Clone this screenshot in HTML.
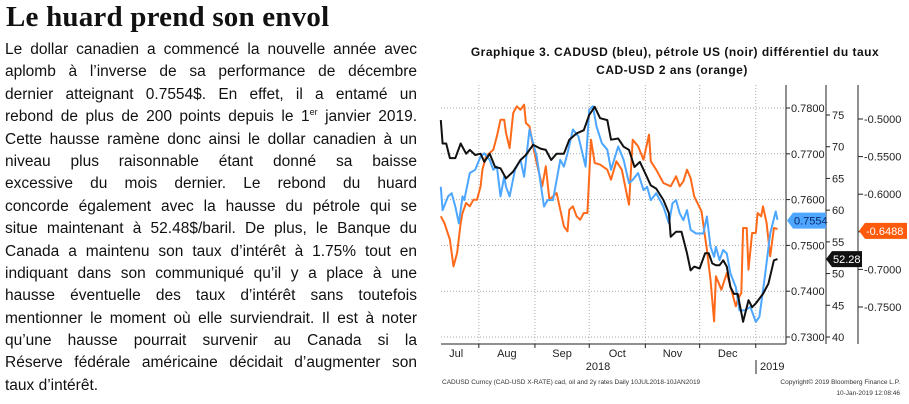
<!DOCTYPE html>
<html><head><meta charset="utf-8">
<style>
body{margin:0;width:909px;height:404px;background:#fff;overflow:hidden;position:relative;font-family:"Liberation Sans",sans-serif}
#title{position:absolute;left:6px;top:1px;font:bold 29px "Liberation Serif",serif;color:#111;letter-spacing:0.2px}
#body{position:absolute;left:5px;top:39px;width:412px;font-size:15.5px;color:#111;line-height:22.4px}
#body div{text-align:justify;text-align-last:justify;white-space:nowrap;height:22.4px}
#body div.last{text-align-last:left}
sup{font-size:9px;line-height:0;vertical-align:6px}
</style></head><body>
<div id="title">Le huard prend son envol</div>
<div id="body">
<div>Le dollar canadien a commencé la nouvelle année avec</div>
<div>aplomb à l’inverse de sa performance de décembre</div>
<div>dernier atteignant 0.7554$. En effet, il a entamé un</div>
<div>rebond de plus de 200 points depuis le 1<sup>er</sup> janvier 2019.</div>
<div>Cette hausse ramène donc ainsi le dollar canadien à un</div>
<div>niveau plus raisonnable étant donné sa baisse</div>
<div>excessive du mois dernier. Le rebond du huard</div>
<div>concorde également avec la hausse du pétrole qui se</div>
<div>situe maintenant à 52.48$/baril. De plus, le Banque du</div>
<div>Canada a maintenu son taux d’intérêt à 1.75% tout en</div>
<div>indiquant dans son communiqué qu’il y a place à une</div>
<div>hausse éventuelle des taux d’intérêt sans toutefois</div>
<div>mentionner le moment où elle surviendrait. Il est à noter</div>
<div>qu’une hausse pourrait survenir au Canada si la</div>
<div>Réserve fédérale américaine décidait d’augmenter son</div>
<div class="last">taux d’intérêt.</div>
</div>
<svg id="chart" width="909" height="404" style="position:absolute;left:0;top:0">
<text x="675" y="56" text-anchor="middle" font-size="12" font-weight="bold" letter-spacing="0.5" font-family="Liberation Sans" fill="#111">Graphique 3. CADUSD (bleu), pétrole US (noir) différentiel du taux</text>
<text x="672" y="74" text-anchor="middle" font-size="12" font-weight="bold" letter-spacing="0.5" font-family="Liberation Sans" fill="#111">CAD-USD 2 ans (orange)</text>
<g id="grid"></g><g id="axes"></g><g id="series"></g><g id="badges"></g>
<text x="442" y="384" font-size="6.5" fill="#333">CADUSD Curncy (CAD-USD X-RATE) cad, oil and 2y rates  Daily 10JUL2018-10JAN2019</text>
<text x="900" y="384" text-anchor="end" font-size="6.5" fill="#333">Copyright© 2019 Bloomberg Finance L.P.</text>
<text x="900" y="395" text-anchor="end" font-size="6.5" fill="#333">10-Jan-2019 12:08:46</text>
</svg>
<script>
const months=["Jul","Aug","Sep","Oct","Nov","Dec"];
const monthStartDays=[-9,22,53,83,114,144,175];
const cadTicks=[0.78,0.77,0.76,0.75,0.74,0.73];
const oilTicks=[75,70,65,60,55,50,45,40];
const rateTicks=[-0.5,-0.55,-0.6,-0.65,-0.7,-0.75];
const cadDays=[1,2,5,7,9,11,13,14,17,20,23,25,28,30,32,34,36,37,39,42,45,47,50,54,58,60,63,67,69,71,74,77,81,83,85,87,90,93,95,99,102,105,107,110,113,115,117,120,124,127,129,131,133,135,137,139,142,146,148,150,152,153,155,157,159,161,164,166,169,172,175,177,180,183,186,187];
const cadVals=[0.7628,0.7577,0.7607,0.7614,0.7585,0.7548,0.7607,0.7599,0.7658,0.7665,0.7694,0.7701,0.7687,0.7665,0.7672,0.7607,0.7650,0.7628,0.7607,0.7665,0.7687,0.7650,0.7753,0.7694,0.7585,0.7599,0.7599,0.7687,0.7672,0.7701,0.7753,0.7738,0.7672,0.7796,0.7804,0.7760,0.7723,0.7709,0.7665,0.7716,0.7687,0.7636,0.7643,0.7658,0.7621,0.7628,0.7599,0.7614,0.7585,0.7548,0.7592,0.7599,0.7570,0.7555,0.7577,0.7534,0.7526,0.7526,0.7563,0.7497,0.7475,0.7497,0.7468,0.7490,0.7482,0.7439,0.7409,0.7358,0.7358,0.7366,0.7333,0.7344,0.7431,0.7526,0.7574,0.7556];
const oilDays=[1,2,4,6,9,12,15,17,20,23,25,28,31,34,37,41,45,48,52,56,59,62,65,69,72,76,80,83,86,89,93,95,99,102,105,108,111,114,117,120,124,127,128,131,134,137,139,141,144,147,149,151,153,155,157,159,161,163,165,168,171,173,175,179,182,185,187];
const oilVals=[74.2,70.5,70.5,68.2,68.2,70.5,68.9,69.5,68.7,68.9,67.6,68.9,66.8,66.6,65.0,66.1,67.9,68.7,70.3,69.7,69.5,67.9,68.9,68.9,71.1,72.1,72.6,75.0,76.3,74.5,74.2,71.1,71.3,70.0,69.5,66.8,67.6,65.8,63.9,63.4,61.6,59.5,55.8,56.6,56.6,53.2,50.5,51.1,50.8,53.2,53.2,51.6,51.3,51.3,52.1,51.1,47.9,46.8,46.8,42.4,45.8,44.7,45.3,46.8,48.4,52.1,52.28];
const rateDays=[1,3,6,8,10,12,13,15,17,19,21,23,24,26,28,30,32,34,36,37,39,41,43,45,47,48,50,52,54,57,59,61,65,69,71,72,74,76,78,80,82,84,86,89,93,95,98,101,104,105,107,110,113,116,117,120,124,128,131,133,135,137,139,141,145,148,150,152,153,156,159,162,164,165,167,168,170,171,173,175,176,178,179,181,183,185,187];
const rateVals=[-0.6294,-0.6383,-0.6605,-0.696,-0.6782,-0.6383,-0.625,-0.6117,-0.6161,-0.6073,-0.6073,-0.5895,-0.5674,-0.5496,-0.5452,-0.5408,-0.523,-0.5009,-0.5009,-0.5186,-0.5386,-0.492,-0.4832,-0.4876,-0.481,-0.5053,-0.5098,-0.5363,-0.5585,-0.5895,-0.5629,-0.6073,-0.5984,-0.6427,-0.6494,-0.6206,-0.6161,-0.6294,-0.6339,-0.625,-0.625,-0.5275,-0.5585,-0.5607,-0.5674,-0.5807,-0.5563,-0.5674,-0.6028,-0.6139,-0.5275,-0.5363,-0.5541,-0.5208,-0.5563,-0.5674,-0.5851,-0.5895,-0.5762,-0.5895,-0.5829,-0.5674,-0.5785,-0.6028,-0.6228,-0.6738,-0.7137,-0.7691,-0.7092,-0.727,-0.7048,-0.7314,-0.7491,-0.7402,-0.7314,-0.6449,-0.6449,-0.7004,-0.6516,-0.6516,-0.625,-0.6294,-0.6161,-0.6383,-0.6826,-0.6449,-0.6463];
const cadLast=0.7554, oilLast=52.28, rateLast=-0.6488;

const NS="http://www.w3.org/2000/svg";
const PL=441,PR=786,PT=85,PB=344;
const xS=d=>439+d*1.81;
const yCad=v=>108+(0.78-v)/0.05*229;
const yOil=v=>115+(75-v)/35*222;
const yRate=v=>119+(-0.5-v)/0.25*188;
function mk(tag,attrs,parent){const e=document.createElementNS(NS,tag);for(const k in attrs)e.setAttribute(k,attrs[k]);parent.appendChild(e);return e;}
const grid=document.getElementById('grid'),axes=document.getElementById('axes'),ser=document.getElementById('series'),bad=document.getElementById('badges');

cadTicks.forEach(t=>{const y=yCad(t);
 const l=mk('line',{x1:PL,x2:PR,y1:y,y2:y,stroke:'#aaa','stroke-dasharray':'1,2','stroke-width':1},grid);
 
 
 mk('line',{x1:PR,x2:PR+4,y1:y,y2:y,stroke:'#222'},axes);
 const tx=mk('text',{x:PR+5,y:y+4,'font-size':11,fill:'#222'},axes);tx.textContent=t.toFixed(4);
 
 
});
monthStartDays.slice(1).forEach(d=>{const x=xS(d);
 const l=mk('line',{x1:x,x2:x,y1:PT,y2:PB,stroke:'#aaa','stroke-dasharray':'1,2'},grid);
 
 
 mk('line',{x1:x,x2:x,y1:PB,y2:PB+4,stroke:'#222'},axes);
});
months.forEach((m,i)=>{const x=(xS(Math.max(monthStartDays[i],-3))+xS(monthStartDays[i+1]))/2;
 const tx=mk('text',{x:x,y:357,'text-anchor':'middle','font-size':11,fill:'#222'},axes);tx.textContent=m;
 
 
});
mk('line',{x1:PL,x2:PR,y1:PB,y2:PB,stroke:'#222'},axes);
mk('line',{x1:PR,x2:PR,y1:PT,y2:PB,stroke:'#222'},axes);
mk('line',{x1:826,x2:826,y1:PT,y2:PB,stroke:'#222'},axes);
mk('line',{x1:858,x2:858,y1:PT,y2:PB,stroke:'#222'},axes);
let t2018=mk('text',{x:598,y:370,'text-anchor':'middle','font-size':11,fill:'#222'},axes);t2018.textContent='2018';


let t2019=mk('text',{x:760,y:370,'font-size':11,fill:'#222'},axes);t2019.textContent='2019';


mk('line',{x1:756,x2:756,y1:360,y2:374,stroke:'#222'},axes);
oilTicks.forEach(t=>{const y=yOil(t);
 mk('line',{x1:826,x2:830,y1:y,y2:y,stroke:'#222'},axes);
 const tx=mk('text',{x:832,y:y+4,'font-size':11,fill:'#222'},axes);tx.textContent=t;
 
 
});
rateTicks.forEach(t=>{const y=yRate(t);
 mk('line',{x1:858,x2:863,y1:y,y2:y,stroke:'#222'},axes);
 const tx=mk('text',{x:864,y:y+4,'font-size':11,fill:'#222'},axes);tx.textContent=t.toFixed(4);
 
 
});
function line(days,vals,ys,col,name){
 const d=days.map((dd,i)=>(i?'L':'M')+xS(dd).toFixed(1)+','+ys(vals[i]).toFixed(1)).join('');
 const p=mk('path',{d:d,fill:'none',stroke:col,'stroke-width':2,'stroke-linejoin':'round'},ser);
 
 
}
line(rateDays,rateVals,yRate,'#ff6a1a','rate-differential-line');
line(cadDays,cadVals,yCad,'#4da6ff','cadusd-line');
line(oilDays,oilVals,yOil,'#111','oil-line');
function badge(x,y,w,fill,txt,tc,name){
 const g=mk('g',{},bad);
 
 
 mk('path',{d:`M${x},${y} L${x+6},${y-8} L${x+w},${y-8} L${x+w},${y+8} L${x+6},${y+8}Z`,fill:fill},g);
 const t=mk('text',{x:x+7,y:y+4,'font-size':11,fill:tc},g);t.textContent=txt;
}
badge(787,yCad(cadLast),39,'#4da6ff','0.7554','#0a2a66','cad-last-badge');
badge(826,yOil(oilLast),36,'#111','52.28','#fff','oil-last-badge');
badge(859,yRate(rateLast),48,'#ff5a0a','-0.6488','#fff','rate-last-badge');
</script>
</body></html>
